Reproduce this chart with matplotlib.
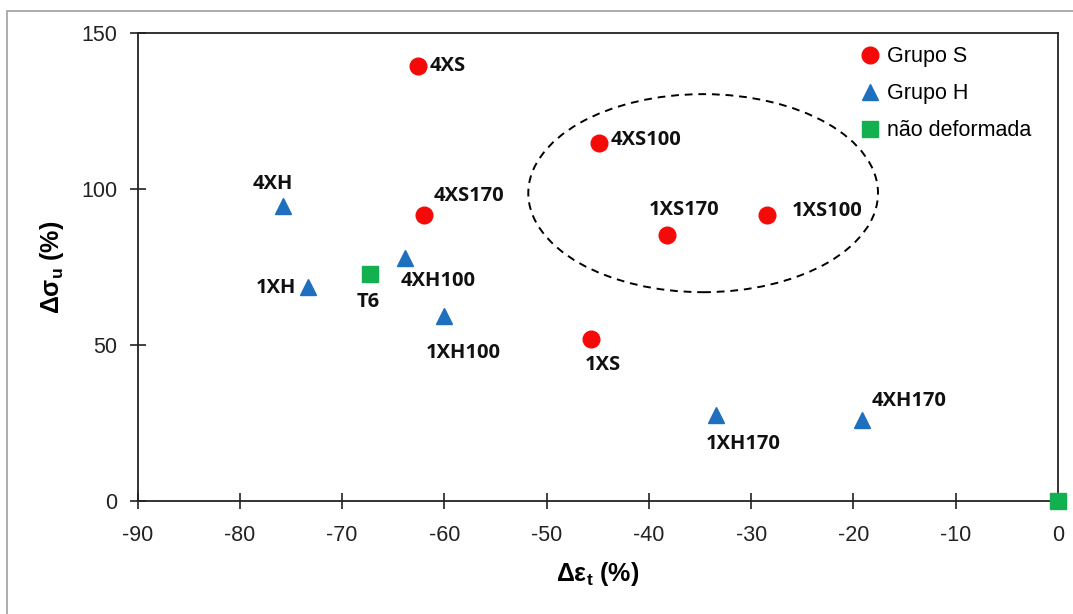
import numpy as np
import matplotlib.pyplot as plt
from matplotlib.patches import Ellipse, Rectangle

plt.rcParams['font.family'] = ['Liberation Sans', 'DejaVu Sans']
plt.rcParams['mathtext.default'] = 'regular'
plt.rcParams['axes.unicode_minus'] = False

# Grupo S
s_names = ['4XS', '4XS100', '4XS170', '1XS170', '1XS100', '1XS']
s_x = [-62.6, -44.9, -62.0, -38.2, -28.5, -45.7]
s_y = [139.4, 114.7, 91.7, 85.3, 91.7, 51.9]

# Grupo H
h_names = ['4XH', '1XH', '4XH100', '1XH100', '1XH170', '4XH170']
h_x = [-75.8, -73.3, -63.9, -60.0, -33.4, -19.2]
h_y = [94.6, 68.6, 77.9, 59.3, 27.6, 26.0]

# nao deformada (T6 + origin)
n_names = ['T6', '']
n_x = [-67.3, 0.0]
n_y = [72.8, 0.0]

# label offsets in pixels (dx, dy, ha)
offsets = {
    '4XS': (12, 0, 'left'), '4XS100': (12, 3, 'left'), '4XS170': (10, 19, 'left'),
    '1XS170': (17, 25, 'center'), '1XS100': (25, 4, 'left'), '1XS': (12, -26, 'center'),
    '4XH': (-10, 22, 'center'), '1XH': (-12, -1, 'right'), '4XH100': (-4, -23, 'left'),
    '1XH100': (19, -37, 'center'), '1XH170': (27, -29, 'center'), '4XH170': (10, 19, 'left'),
    'T6': (-2, -28, 'center'),
}

red = '#f50a0a'
blue = '#1f6fbf'
green = '#12b04f'

fig = plt.figure(figsize=(10.73, 6.14), dpi=100)
ax = fig.add_axes([0.1283, 0.184, 0.8577, 0.762])

# outer frame
fig.patches.append(Rectangle((7 / 1073, -0.1), 1.2, 1 - 11 / 614 + 0.1, transform=fig.transFigure,
                             fill=False, edgecolor='#a0a0a0', lw=1.2))

ax.plot(s_x, s_y, 'o', color=red, ms=12, label='Grupo S', clip_on=False, zorder=3)
ax.plot(h_x, h_y, '^', color=blue, ms=11, label='Grupo H', clip_on=False, zorder=3)
ax.plot(n_x, n_y, 's', color=green, ms=12, label='não deformada', clip_on=False, zorder=4)

for names, xs, ys in [(s_names, s_x, s_y), (h_names, h_x, h_y), (n_names, n_x, n_y)]:
    for name, x, y in zip(names, xs, ys):
        if not name:
            continue
        dx, dy, ha = offsets[name]
        ax.annotate(name, (x, y), xytext=(dx, dy), textcoords='offset pixels',
                    ha=ha, va='center', fontsize=14.5, fontweight='bold',
                    family=['Open Sans', 'DejaVu Sans'], color='#111111')

# dashed ellipse around the S group
ell_center = (-34.7, 98.7)
ell_w, ell_h = 34.2, 63.5
ax.add_patch(Ellipse(ell_center, ell_w, ell_h, fill=False, ls=(0, (4, 3)), lw=1.4,
                     edgecolor='black', zorder=2))

ax.set_xlim(-90, 0)
ax.set_ylim(0, 150)
ax.set_xticks(np.arange(-90, 1, 10))
ax.set_yticks([0, 50, 100, 150])
ax.tick_params(direction='inout', length=11, width=1.2, labelsize=15.5,
               labelcolor='#222222', color='#222222')
ax.tick_params(axis='x', pad=12)
ax.tick_params(axis='y', pad=9)
for sp in ax.spines.values():
    sp.set_linewidth(1.3)
    sp.set_color('#222222')

ax.set_xlabel('Δε$_t$ (%)', fontsize=18, fontweight='bold', labelpad=10)
ax.set_ylabel('Δσ$_u$ (%)', fontsize=18, fontweight='bold', labelpad=11)

leg = ax.legend(loc='upper right', frameon=False, fontsize=15.5, handletextpad=0.2,
                labelspacing=0.75, borderaxespad=0.2, handlelength=1.2,
                bbox_to_anchor=(0.985, 1.0))

fig.savefig('out.png', dpi=100)
